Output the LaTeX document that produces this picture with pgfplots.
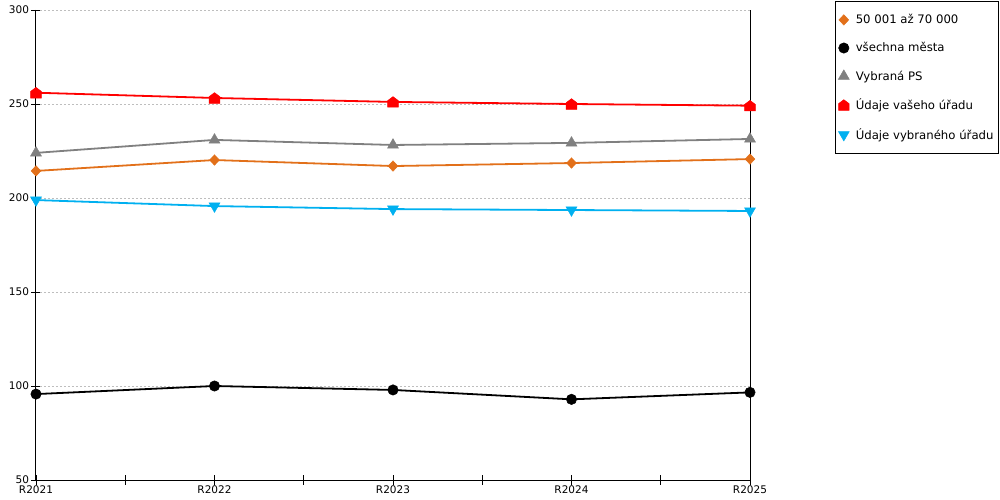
\documentclass[border=0pt]{standalone}
\usepackage{fontspec}
\setmainfont{DejaVu Sans}
\usepackage{pgfplots}
\pgfplotsset{compat=1.18}
\definecolor{cOrange}{RGB}{226,112,26}
\definecolor{cGray}{RGB}{128,128,128}
\definecolor{cRed}{RGB}{255,0,0}
\definecolor{cBlue}{RGB}{0,176,240}
\definecolor{cGrid}{RGB}{190,190,190}
\pgfdeclareplotmark{house}{%
  \pgfpathmoveto{\pgfqpoint{-\pgfplotmarksize}{-\pgfplotmarksize}}%
  \pgfpathlineto{\pgfqpoint{\pgfplotmarksize}{-\pgfplotmarksize}}%
  \pgfpathlineto{\pgfqpoint{\pgfplotmarksize}{0.25\pgfplotmarksize}}%
  \pgfpathlineto{\pgfqpoint{0pt}{\pgfplotmarksize}}%
  \pgfpathlineto{\pgfqpoint{-\pgfplotmarksize}{0.25\pgfplotmarksize}}%
  \pgfpathclose
  \pgfusepathqfillstroke}
\begin{document}
\begin{tikzpicture}
\path[use as bounding box] (-36bp,-20bp) rectangle (964bp,480bp);
\begin{axis}[
  at={(0,0)}, anchor=south west,
  scale only axis, width=714bp, height=470bp,
  xmin=0, xmax=4, ymin=50, ymax=300,
  xtick={0,1,2,3,4},
  xticklabels={R2021,R2022,R2023,R2024,R2025},
  minor x tick num=1,
  ytick={50,100,150,200,250,300},
  axis line style={draw=none},
  tick align=center,
  xtick pos=bottom, ytick pos=left,
  major tick length=9bp, minor tick length=9bp,
  tick style={black, line width=0.8bp},
  ymajorgrids,
  major grid style={cGrid, dash pattern=on 2bp off 2bp, line width=0.6bp},
  /pgf/number format/assume math mode=true,
  tick label style={font=\fontsize{10.5bp}{12bp}\selectfont},
  xticklabel style={yshift=2bp},
  yticklabel style={xshift=1bp},
  legend style={at={(axis description cs:1.119,1.019)}, anchor=north west,
    draw=black, line width=0.8bp, font=\fontsize{11.7bp}{13bp}\selectfont,
    row sep=13.3bp, inner xsep=3bp, inner ysep=11bp},
  legend cell align=left,
  legend image code/.code={\path (0cm,0cm) (0.4cm,0cm);\draw[#1, only marks] plot coordinates {(0.08cm,0cm)};},
  clip=false,
]
\addplot[cOrange, line width=1.8bp, mark=diamond*, mark size=5.2bp, mark options={solid, line width=0.5bp, xscale=1.25}]
  coordinates {(0,214.4) (1,220.2) (2,217.0) (3,218.6) (4,220.7)};
\addlegendentry{50 001 až 70 000}
\addplot[black, line width=1.8bp, mark=*, mark size=5.2bp, mark options={solid, line width=0.5bp}]
  coordinates {(0,95.7) (1,100.0) (2,97.9) (3,92.9) (4,96.6)};
\addlegendentry{všechna města}
\addplot[cGray, line width=1.8bp, mark=triangle*, mark size=6.3bp, mark options={solid, line width=0.5bp}]
  coordinates {(0,224.0) (1,230.9) (2,228.2) (3,229.3) (4,231.4)};
\addlegendentry{Vybraná PS}
\addplot[cRed, line width=1.8bp, mark=house, mark size=5.3bp, mark options={solid, line width=0.5bp}]
  coordinates {(0,256.0) (1,253.2) (2,251.1) (3,250.0) (4,249.1)};
\addlegendentry{Údaje vašeho úřadu}
\addplot[cBlue, line width=1.8bp, mark=triangle*, mark size=6.3bp, mark options={solid, line width=0.5bp, rotate=180}]
  coordinates {(0,198.9) (1,195.7) (2,194.1) (3,193.6) (4,193.1)};
\addlegendentry{Údaje vybraného úřadu}
\draw[black, line width=1bp] (rel axis cs:0,1) -- (rel axis cs:0,0) -- (rel axis cs:1,0) -- (rel axis cs:1,1);
\end{axis}
\end{tikzpicture}
\end{document}
